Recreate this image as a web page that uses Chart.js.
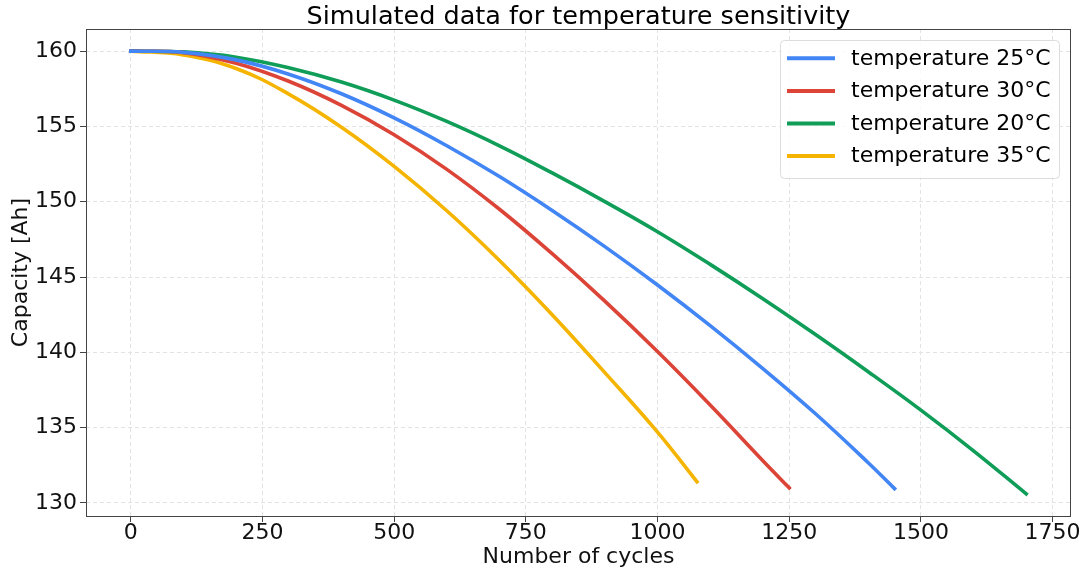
<!DOCTYPE html>
<html>
<head>
<meta charset="utf-8">
<title>Temperature sensitivity</title>
<script src="https://cdn.jsdelivr.net/npm/chart.js@4.4.1/dist/chart.umd.min.js"></script>
<style>
  html, body { margin: 0; padding: 0; background: #fff; }
  #wrap { width: 1084px; height: 578px; }
</style>
</head>
<body>
<div id="wrap"><canvas id="chart" width="1084" height="578"></canvas></div>
<script>
const TITLE = 'Simulated data for temperature sensitivity';
const X_LABEL = 'Number of cycles';
const Y_LABEL = 'Capacity [Ah]';

const xTicks = [0, 250, 500, 750, 1000, 1250, 1500, 1750];
const yTicks = [130, 135, 140, 145, 150, 155, 160];

// capacity fade per temperature: cycle count -> capacity [Ah]
const cycles25 = [0, 100, 200, 300, 400, 500, 600, 700, 800, 900, 1000, 1100, 1200, 1300, 1400, 1450];
const capacity25 = [160, 159.92, 159.42, 158.47, 157.17, 155.57, 153.72, 151.67, 149.42, 147.02, 144.47, 141.77, 138.92, 135.92, 132.67, 130.95];

const cycles30 = [0, 100, 200, 300, 400, 500, 600, 700, 800, 900, 1000, 1100, 1200, 1250];
const capacity30 = [160, 159.9, 159.2, 158.0, 156.4, 154.45, 152.15, 149.5, 146.55, 143.4, 140.05, 136.5, 132.8, 131.0];

const cycles20 = [0, 100, 200, 300, 400, 500, 600, 700, 800, 900, 1000, 1100, 1200, 1300, 1400, 1500, 1600, 1700];
const capacity20 = [160, 159.95, 159.6, 158.9, 157.95, 156.75, 155.33, 153.71, 151.91, 150.01, 148.01, 145.84, 143.56, 141.18, 138.71, 136.16, 133.46, 130.6];

const cycles35 = [0, 100, 200, 300, 400, 500, 600, 700, 800, 900, 1000, 1075];
const capacity35 = [160, 159.75, 158.85, 157.15, 154.95, 152.35, 149.4, 146.1, 142.5, 138.65, 134.7, 131.4];

const seriesLabels = ['temperature 25°C', 'temperature 30°C', 'temperature 20°C', 'temperature 35°C'];
const seriesColors = ['#4285F4', '#DB4437', '#0F9D58', '#F4B400'];
const seriesCycles = [cycles25, cycles30, cycles20, cycles35];
const seriesCapacity = [capacity25, capacity30, capacity20, capacity35];

const FONT = "'DejaVu Sans', 'Liberation Sans', sans-serif";

function toPoints(xs, ys) {
    return xs.map((x, i) => ({ x, y: ys[i] }));
}

// Title centred over the plot, full frame around the plot, and boxed legend in the top right
const decorations = {
    id: 'decorations',
    afterDraw(chart) {
        const { ctx, chartArea: a } = chart;
        ctx.save();

        ctx.fillStyle = '#000';
        ctx.font = `25.5px ${FONT}`;
        ctx.textAlign = 'center';
        ctx.textBaseline = 'alphabetic';
        ctx.fillText(TITLE, (a.left + a.right) / 2, 24);

        ctx.strokeStyle = '#444';
        ctx.lineWidth = 1;
        ctx.strokeRect(a.left + 0.5, a.top + 0.5, a.right - a.left - 1, a.bottom - a.top);

        // legend box
        const bx = 780.5, by = 40.5, bw = 279, bh = 138, r = 4;
        ctx.beginPath();
        ctx.moveTo(bx + r, by);
        ctx.arcTo(bx + bw, by, bx + bw, by + bh, r);
        ctx.arcTo(bx + bw, by + bh, bx, by + bh, r);
        ctx.arcTo(bx, by + bh, bx, by, r);
        ctx.arcTo(bx, by, bx + bw, by, r);
        ctx.closePath();
        ctx.fillStyle = 'rgba(255,255,255,0.8)';
        ctx.fill();
        ctx.strokeStyle = '#dcdcdc';
        ctx.stroke();

        ctx.font = `22px ${FONT}`;
        ctx.textAlign = 'left';
        ctx.textBaseline = 'middle';
        chart.data.datasets.forEach((ds, i) => {
            const rowY = 58.3 + i * 32.6;
            ctx.strokeStyle = ds.borderColor;
            ctx.lineWidth = 4;
            ctx.beginPath();
            ctx.moveTo(787, rowY);
            ctx.lineTo(835, rowY);
            ctx.stroke();
            ctx.fillStyle = '#000';
            ctx.fillText(ds.label, 851, rowY + 0.5);
        });

        ctx.restore();
    }
};

const gridStyle = {
    color: '#e3e3e3',
    lineWidth: 1,
    tickLength: 6,
    tickColor: '#444',
    tickWidth: 1
};

const ctx = document.getElementById('chart').getContext('2d');
new Chart(ctx, {
    type: 'line',
    data: {
        datasets: seriesLabels.map((label, i) => ({
            label,
            data: toPoints(seriesCycles[i], seriesCapacity[i]),
            borderColor: seriesColors[i],
            backgroundColor: seriesColors[i],
            borderWidth: 3.6,
            borderCapStyle: 'square',
            pointRadius: 0,
            fill: false,
            tension: 0.4
        }))
    },
    options: {
        responsive: false,
        animation: false,
        devicePixelRatio: 1,
        layout: { padding: { top: 29, right: 13, left: 0, bottom: 0 } },
        plugins: {
            legend: { display: false },
            title: { display: false },
            tooltip: { enabled: false }
        },
        scales: {
            x: {
                type: 'linear',
                min: -85,
                max: 1785,
                afterBuildTicks: scale => { scale.ticks = xTicks.map(v => ({ value: v })); },
                afterFit: scale => { scale.height = 62; },
                grid: gridStyle,
                border: { display: false, dash: [4, 3] },
                ticks: {
                    color: '#111',
                    padding: 0,
                    maxRotation: 0,
                    callback: value => String(value),
                    font: { family: FONT, size: 22, lineHeight: 1 }
                },
                title: {
                    display: true,
                    text: X_LABEL,
                    color: '#111',
                    padding: { top: 0, bottom: 8 },
                    font: { family: FONT, size: 22 }
                }
            },
            y: {
                type: 'linear',
                min: 129.13,
                max: 161.47,
                afterBuildTicks: scale => { scale.ticks = yTicks.map(v => ({ value: v })); },
                afterFit: scale => { scale.width = 86; },
                grid: gridStyle,
                border: { display: false, dash: [4, 3] },
                ticks: {
                    color: '#111',
                    padding: 3,
                    callback: value => String(value),
                    font: { family: FONT, size: 22, lineHeight: 1 }
                },
                title: {
                    display: true,
                    text: Y_LABEL,
                    color: '#111',
                    padding: { top: 8, bottom: 0 },
                    font: { family: FONT, size: 22 }
                }
            }
        }
    },
    plugins: [decorations]
});
</script>
</body>
</html>
